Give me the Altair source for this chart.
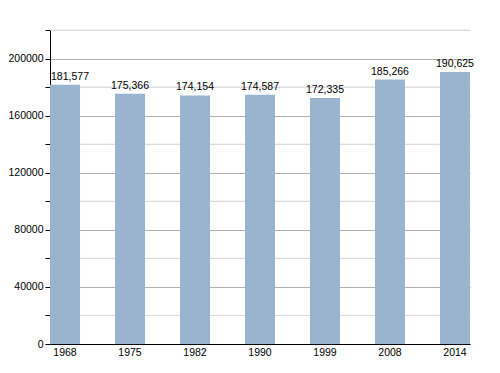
import altair as alt
import pandas as pd

years = ["1968", "1975", "1982", "1990", "1999", "2008", "2014"]
population = [181577, 175366, 174154, 174587, 172335, 185266, 190625]
y_ticks = [0, 20000, 40000, 60000, 80000, 100000, 120000, 140000, 160000, 180000, 200000, 220000]
minor_grid = [20000, 60000, 100000, 140000, 180000, 220000]

df = pd.DataFrame({"year": years, "pop": population})
grid_df = pd.DataFrame({"v": minor_grid})

FONT = "Liberation Sans"

x = alt.X("year:N", title=None, sort=years,
          scale=alt.Scale(paddingInner=0.538, paddingOuter=0),
          axis=alt.Axis(labelAngle=0, ticks=False, domainColor="#000", labelFont=FONT,
                        labelFontSize=10.5, labelColor="#000", labelPadding=3, grid=False))

y_scale = alt.Scale(domain=[0, 220000], nice=False)
y_axis = alt.Axis(values=y_ticks,
                  labelExpr="datum.value % 40000 === 0 && datum.value < 220000 ? datum.value : ''",
                  domainColor="#000", tickColor="#000", tickSize=5,
                  labelFont=FONT, labelFontSize=10.5, labelColor="#000", labelPadding=2,
                  grid=True,
                  gridColor={"condition": {"test": "datum.value % 40000 === 0 && datum.value < 220000", "value": "#b0b0b0"}, "value": "#dcdcdc"})

minor = alt.Chart(grid_df).mark_rule(color="#dcdcdc", strokeWidth=1).encode(
    y=alt.Y("v:Q", title=None, scale=y_scale, axis=y_axis),
)

bars = alt.Chart(df).mark_bar(color="#9ab3cf").encode(
    x=x,
    y=alt.Y("pop:Q", title=None, scale=y_scale, axis=y_axis),
)

labels = alt.Chart(df).mark_text(baseline="bottom", dy=-3, font=FONT, fontSize=10.5, color="#000").encode(
    x=alt.X("year:N", sort=years),
    y=alt.Y("pop:Q", title=None, scale=y_scale, axis=y_axis),
    text=alt.Text("pop:Q", format=","),
).transform_filter(alt.datum.year != years[0])

first_label = alt.Chart(df).mark_text(baseline="bottom", align="left", dx=-14, dy=-3, font=FONT, fontSize=10.5, color="#000").encode(
    x=alt.X("year:N", sort=years),
    y=alt.Y("pop:Q", title=None, scale=y_scale, axis=y_axis),
    text=alt.Text("pop:Q", format=","),
).transform_filter(alt.datum.year == years[0])

chart = alt.layer(minor, bars, labels, first_label).properties(
    width=420, height=314,
    autosize=alt.AutoSizeParams(type="none"),
    padding={"left": 42, "top": 22, "right": 20, "bottom": 25},
).configure_view(stroke=None)

chart.save("out.html", embed_options={"renderer": "svg", "actions": False})
